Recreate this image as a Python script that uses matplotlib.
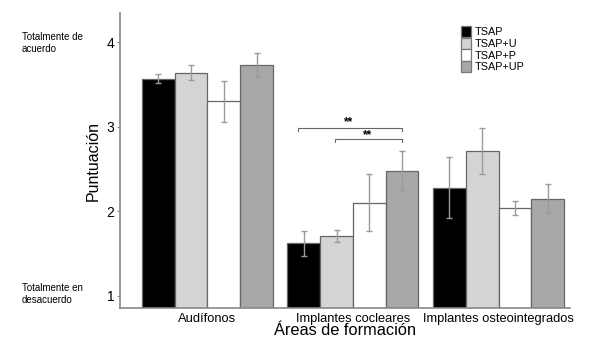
# Puntuación por área de formación y grupo (barras con error)
import numpy as np
import matplotlib
matplotlib.use("Agg")
import matplotlib.pyplot as plt

plt.rcParams['font.family'] = ['Liberation Sans', 'DejaVu Sans']

# datos
areas = ["Audífonos", "Implantes cocleares", "Implantes osteointegrados"]
grupos = ["TSAP", "TSAP+U", "TSAP+P", "TSAP+UP"]
colores = ["#000000", "#d4d4d4", "#ffffff", "#a8a8a8"]
medias = {
    "TSAP":    [3.57, 1.62, 2.28],
    "TSAP+U":  [3.64, 1.71, 2.71],
    "TSAP+P":  [3.30, 2.10, 2.04],
    "TSAP+UP": [3.73, 2.48, 2.15],
}
errores = {
    "TSAP":    [0.05, 0.145, 0.36],
    "TSAP+U":  [0.09, 0.07, 0.27],
    "TSAP+P":  [0.24, 0.34, 0.08],
    "TSAP+UP": [0.14, 0.23, 0.17],
}
# comparaciones significativas (x inicio, x fin, altura corchete, altura texto)
sig_x0 = [1.62, 1.875]
sig_x1 = [2.335, 2.335]
sig_y = [2.99, 2.86]
sig_ytxt = [3.06, 2.905]
sig_xtxt = [1.97, 2.10]
sig_txt = ["**", "**"]

fig = plt.figure(figsize=(5.93, 3.43), dpi=100)
ax = fig.add_axes([0.2024, 0.101, 0.7586, 0.862])

x = np.arange(1, len(areas) + 1)
ancho = 0.225
for i, g in enumerate(grupos):
    pos = x + (i - 1.5) * ancho
    ax.bar(pos, medias[g], width=ancho, bottom=0, color=colores[i],
           edgecolor="#666666", linewidth=0.9, label=g, zorder=2)
    ax.errorbar(pos, medias[g], yerr=errores[g], fmt="none", ecolor="#9a9a9a",
                elinewidth=1.0, capsize=2.3, capthick=1.0, zorder=3)

# corchetes de significación
for x0, x1, y, xt, yt, t in zip(sig_x0, sig_x1, sig_y, sig_xtxt, sig_ytxt, sig_txt):
    ax.plot([x0, x0, x1, x1], [y - 0.04, y, y, y - 0.04], color="#666666", lw=0.8)
    ax.text(xt, yt, t, ha="center", va="center", fontsize=8.5, fontweight="bold")

ax.set_xlim(0.40, 3.49)
ax.set_ylim(0.85, 4.35)
ax.set_xticks(x)
ax.set_xticklabels(areas, fontsize=9.3)
ax.set_yticks([1, 2, 3, 4])
ax.set_yticklabels(["1", "2", "3", "4"], fontsize=10)
ax.tick_params(axis="both", length=2, color="#888888", pad=2)
ax.tick_params(axis="x", length=0, pad=3)
for s in ["top", "right"]:
    ax.spines[s].set_visible(False)
for s in ["left", "bottom"]:
    ax.spines[s].set_color("#888888")
    ax.spines[s].set_linewidth(1.2)

ax.set_xlabel("Áreas de formación", fontsize=11.8, labelpad=-1)
ax.set_ylabel("Puntuación", fontsize=11.5, labelpad=4)

# etiquetas de los extremos
fig.text(0.037, 0.875, "Totalmente de\nacuerdo", fontsize=7, va="center", ha="left")
fig.text(0.037, 0.143, "Totalmente en\ndesacuerdo", fontsize=7, va="center", ha="left")

leg = ax.legend(loc="upper left", bbox_to_anchor=(0.768, 0.94), bbox_transform=fig.transFigure,
                frameon=False, fontsize=7.8, handlelength=0.95, handleheight=1.2,
                labelspacing=0.05, handletextpad=0.35, borderpad=0)
for h in leg.legend_handles:
    h.set_edgecolor("#777777")

fig.savefig("out.png", dpi=100)
